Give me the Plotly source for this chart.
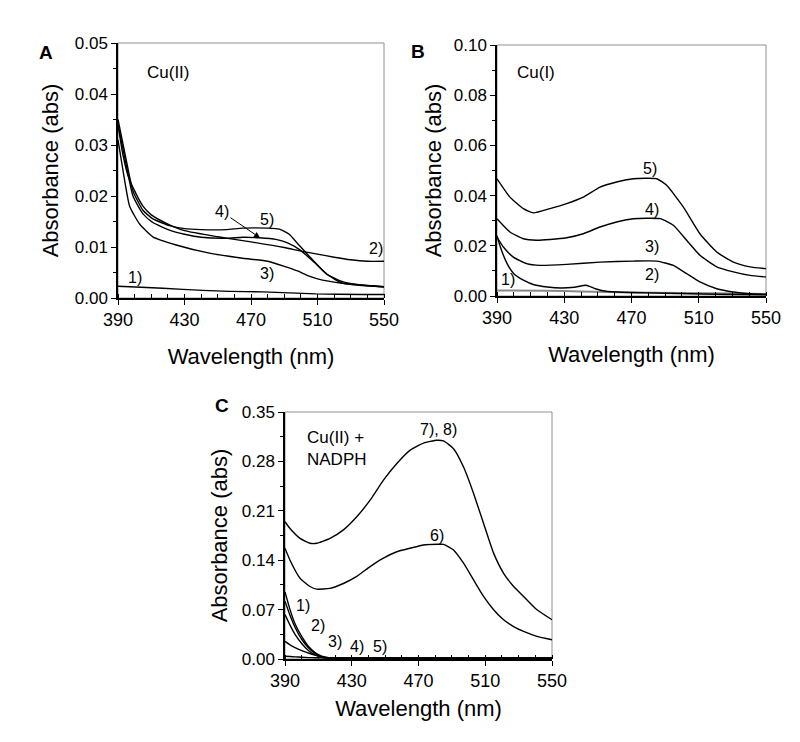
import plotly.graph_objects as go

# ---------------- Panel A : Cu(II) ----------------
A_wl_1 = [390, 397, 417, 441, 457, 477, 509, 537, 550]
A_abs_1 = [0.0023, 0.0022, 0.0019, 0.0015, 0.0013, 0.0012, 0.0008, 0.0007, 0.0007]
A_wl_2 = [390, 393, 396, 400, 405, 410, 420, 430, 450, 470, 490, 500, 510, 520, 530, 540, 550]
A_abs_2 = [0.034, 0.028, 0.024, 0.021, 0.018, 0.0163, 0.0145, 0.0132, 0.0120, 0.0110, 0.0099,
           0.0092, 0.0086, 0.0080, 0.0075, 0.0072, 0.0072]
A_wl_3 = [390, 393, 397, 403, 411, 425, 445, 465, 480, 490, 498, 505, 513, 525, 537, 550]
A_abs_3 = [0.031, 0.025, 0.018, 0.0145, 0.0120, 0.0104, 0.0088, 0.0078, 0.0072, 0.0062, 0.0053,
           0.0043, 0.0035, 0.0029, 0.0025, 0.0022]
A_wl_4 = [390, 395, 399, 405, 411, 421, 430, 440, 455, 465, 475, 485, 492, 500, 508, 516, 525, 535, 550]
A_abs_4 = [0.034, 0.026, 0.020, 0.0165, 0.0148, 0.0133, 0.0125, 0.0119, 0.0117, 0.0119, 0.0118,
           0.0115, 0.0108, 0.0093, 0.0070, 0.0046, 0.0032, 0.0026, 0.0022]
A_wl_5 = [390, 395, 399, 405, 411, 421, 430, 440, 455, 465, 480, 487, 493, 498, 505, 515, 525, 535, 550]
A_abs_5 = [0.035, 0.027, 0.021, 0.0172, 0.0155, 0.0142, 0.0136, 0.0134, 0.0134, 0.0137, 0.0137,
           0.0135, 0.0125, 0.0107, 0.0082, 0.0048, 0.0029, 0.0025, 0.0022]

# ---------------- Panel B : Cu(I) ----------------
B_wl_1 = [390, 420, 440, 470, 500, 530, 550]
B_abs_1 = [0.0022, 0.0021, 0.0018, 0.0014, 0.0012, 0.0010, 0.0008]
B_wl_2 = [390, 392, 396, 400, 406, 412, 420, 428, 436, 443, 449, 455, 470, 490, 520, 550]
B_abs_2 = [0.024, 0.0195, 0.0129, 0.0089, 0.0062, 0.0045, 0.0036, 0.0032, 0.0035, 0.0043,
           0.0028, 0.0019, 0.0014, 0.0011, 0.0007, 0.0005]
B_wl_3 = [390, 393.8, 399.7, 407.6, 415.6, 431.4, 451.3, 471.1, 485, 494.9, 502.8, 510.7,
          520.7, 530.6, 540.5, 550]
B_abs_3 = [0.0235, 0.0195, 0.0155, 0.0129, 0.0122, 0.0126, 0.0135, 0.0139, 0.0139, 0.0122,
           0.0089, 0.0056, 0.0029, 0.0016, 0.0009, 0.0007]
B_wl_4 = [390, 397.7, 405.7, 413.6, 421.5, 431.4, 441.3, 451.3, 461.2, 471.1, 487, 494.9,
          502.8, 510.7, 520.7, 530.6, 540.5, 550]
B_abs_4 = [0.0308, 0.0255, 0.0228, 0.0222, 0.0225, 0.0232, 0.0248, 0.0275, 0.0295, 0.0308,
           0.0308, 0.0282, 0.0222, 0.0162, 0.0116, 0.0096, 0.0082, 0.0076]
B_wl_5 = [390, 397.7, 405.7, 411.6, 421.5, 431.4, 441.3, 451.3, 461.2, 471.1, 485, 490.9,
          500.8, 510.7, 520.7, 530.6, 540.5, 550]
B_abs_5 = [0.0467, 0.0394, 0.0348, 0.0331, 0.0348, 0.0368, 0.0394, 0.0434, 0.0454, 0.0467,
           0.0467, 0.0441, 0.0355, 0.0248, 0.0175, 0.0135, 0.0116, 0.0109]

# ---------------- Panel C : Cu(II) + NADPH ----------------
C_wl_low = [390, 393, 396, 400, 404, 408, 412, 416, 420, 450, 500, 550]
C_abs_1 = [0.095, 0.070, 0.050, 0.032, 0.018, 0.009, 0.004, 0.002, 0.0015, 0.0012, 0.0010, 0.0010]
C_abs_2 = [0.082, 0.062, 0.045, 0.028, 0.016, 0.008, 0.003, 0.0018, 0.0014, 0.0012, 0.0010, 0.0010]
C_abs_3 = [0.063, 0.048, 0.035, 0.022, 0.012, 0.006, 0.0025, 0.0016, 0.0013, 0.0011, 0.0010, 0.0010]
C_abs_4 = [0.025, 0.020, 0.016, 0.012, 0.0085, 0.0055, 0.0030, 0.0016, 0.0013, 0.0011, 0.0010, 0.0010]
C_abs_5 = [0.004, 0.0035, 0.003, 0.0025, 0.002, 0.0018, 0.0016, 0.0014, 0.0012, 0.0011, 0.0010, 0.0010]
C_wl_hi = [390, 393, 399, 405, 409, 417, 425, 433, 441, 449, 457, 465, 473, 481, 485, 491,
           497, 503, 509, 515, 521, 527, 533, 541, 550]
C_abs_78 = [0.1945, 0.185, 0.171, 0.164, 0.164, 0.171, 0.183, 0.2016, 0.225, 0.2534, 0.277,
            0.296, 0.306, 0.310, 0.309, 0.298, 0.272, 0.2346, 0.192, 0.150, 0.1215, 0.1027,
            0.0886, 0.0697, 0.0556]
C_abs_6 = [0.157, 0.140, 0.1145, 0.1027, 0.099, 0.100, 0.107, 0.117, 0.131, 0.143, 0.152,
           0.157, 0.1616, 0.1625, 0.1625, 0.1545, 0.1357, 0.112, 0.0886, 0.0697, 0.0556,
           0.046, 0.039, 0.032, 0.0273]

# tick settings
x_ticks = [390, 430, 470, 510, 550]
A_yticks = [0.00, 0.01, 0.02, 0.03, 0.04, 0.05]
B_yticks = [0.00, 0.02, 0.04, 0.06, 0.08, 0.10]
C_yticks = [0.00, 0.07, 0.14, 0.21, 0.28, 0.35]

FONT = "Liberation Sans, Arial, sans-serif"
LW = 1.4

fig = go.Figure()

def add(x, y, ax, color="black", width=LW):
    xa = "x" if ax == 1 else f"x{ax}"
    ya = "y" if ax == 1 else f"y{ax}"
    fig.add_trace(go.Scatter(x=x, y=y, mode="lines", xaxis=xa, yaxis=ya,
                             line=dict(color=color, width=width, shape="spline", smoothing=0.5),
                             showlegend=False, hoverinfo="skip"))

add(A_wl_1, A_abs_1, 1)
add(A_wl_2, A_abs_2, 1)
add(A_wl_3, A_abs_3, 1)
add(A_wl_4, A_abs_4, 1)
add(A_wl_5, A_abs_5, 1)

add(B_wl_1, B_abs_1, 2, color="#888888", width=2)
add(B_wl_2, B_abs_2, 2)
add(B_wl_3, B_abs_3, 2)
add(B_wl_4, B_abs_4, 2)
add(B_wl_5, B_abs_5, 2)

for arr in (C_abs_1, C_abs_2, C_abs_3, C_abs_4, C_abs_5):
    add(C_wl_low, arr, 3)
add(C_wl_hi, C_abs_6, 3)
add(C_wl_hi, C_abs_78, 3)

def xaxis(domain, anchor, standoff):
    return dict(domain=domain, anchor=anchor, range=[390, 550], tickvals=x_ticks,
                automargin=False,
                showline=True, linecolor="black", linewidth=1.5, mirror=False,
                ticks="outside", ticklen=5, tickwidth=1.2, tickcolor="black",
                minor=dict(dtick=10, tick0=390, ticks="inside", ticklen=4, tickwidth=1,
                           tickcolor="black", showgrid=False),
                showgrid=False, zeroline=False,
                tickfont=dict(family=FONT, size=18, color="black"),
                title=dict(text="Wavelength (nm)", font=dict(family=FONT, size=22, color="black"),
                           standoff=standoff))

def yaxis(domain, anchor, rng, vals, minor_dt, standoff):
    return dict(domain=domain, anchor=anchor, range=rng, tickvals=vals, tickformat=".2f",
                automargin=False,
                showline=True, linecolor="black", linewidth=1.5, mirror=False,
                ticks="outside", ticklen=5, tickwidth=1.2, tickcolor="black",
                minor=dict(dtick=minor_dt, tick0=0, ticks="outside", ticklen=3, tickwidth=1,
                           tickcolor="black", showgrid=False),
                showgrid=False, zeroline=False,
                tickfont=dict(family=FONT, size=17, color="black"),
                title=dict(text="Absorbance (abs)", font=dict(family=FONT, size=22, color="black"),
                           standoff=standoff))

# page has an 8px body margin: figure is 784x726, positions are page px minus 8
OFF = 8
W, H = 800 - 2 * OFF, 742 - 2 * OFF
def px_x(a): return (a - OFF) / W
def px_y(a): return 1 - (a - OFF) / H
def xd(a, b): return [px_x(a), px_x(b)]
def yd(top, bot): return [px_y(bot), px_y(top)]

fig.update_layout(
    width=W, height=H, margin=dict(l=0, r=0, t=0, b=0, autoexpand=False),
    paper_bgcolor="white", plot_bgcolor="white",
    xaxis=xaxis(xd(118, 384), "y", 19),
    yaxis=yaxis(yd(43, 298), "x", [0, 0.05], A_yticks, 0.005, 10),
    xaxis2=xaxis(xd(497, 766), "y2", 19),
    yaxis2=yaxis(yd(45, 296), "x2", [0, 0.10], B_yticks, 0.01, 6),
    xaxis3=xaxis(xd(285, 552), "y3", 10),
    yaxis3=yaxis(yd(412, 659), "x3", [0, 0.35], C_yticks, 0.035, 8),
)

# grey frame (top/right)
for i in ("", "2", "3"):
    fig.add_shape(type="rect", xref=f"x{i} domain", yref=f"y{i} domain", x0=0, x1=1, y0=0, y1=1,
                  line=dict(color="#909090", width=1), layer="below")

def ann(text, x, y, ax, size=16, **kw):
    xa = "x" if ax == 1 else f"x{ax}"
    ya = "y" if ax == 1 else f"y{ax}"
    fig.add_annotation(text=text, x=x, y=y, xref=xa, yref=ya, showarrow=False,
                       font=dict(family=FONT, size=size, color="black"), **kw)

# panel letters
for letter, px, py in (("A", 37, 40), ("B", 418, 39), ("C", 213, 405)):
    fig.add_annotation(text=f"<b>{letter}</b>", x=px_x(px), y=px_y(py), xref="paper", yref="paper",
                       showarrow=False, font=dict(family=FONT, size=19, color="black"))

# panel A labels
ann("Cu(II)", 406, 0.0443, 1, size=17, xanchor="left")
ann("1)", 400, 0.0041, 1)
ann("2)", 545, 0.0097, 1)
ann("3)", 479.6, 0.0049, 1)
ann("5)", 479.6, 0.0153, 1)
fig.add_annotation(text="4)", x=475.4, y=0.0118, xref="x", yref="y", ax=452.5, ay=0.0169,
                   axref="x", ayref="y", showarrow=True, arrowhead=2, arrowsize=1.2,
                   arrowwidth=1, arrowcolor="black",
                   font=dict(family=FONT, size=16, color="black"))

# panel B labels
ann("Cu(I)", 400.7, 0.0892, 2, size=17, xanchor="left")
ann("1)", 396.7, 0.0064, 2)
ann("2)", 482, 0.0084, 2)
ann("3)", 482, 0.0196, 2)
ann("4)", 482, 0.0343, 2)
ann("5)", 481, 0.0509, 2)

# panel C labels
ann("Cu(II) +<br>NADPH", 402, 0.2976, 3, size=17, xanchor="left", align="left")
ann("1)", 401, 0.0765, 3)
ann("2)", 410, 0.048, 3)
ann("3)", 420, 0.0245, 3)
ann("4)", 433, 0.0175, 3)
ann("5)", 447, 0.0175, 3)
ann("6)", 481, 0.1757, 3)
ann("7), 8)", 482, 0.3245, 3)

fig.write_html("out.html")
